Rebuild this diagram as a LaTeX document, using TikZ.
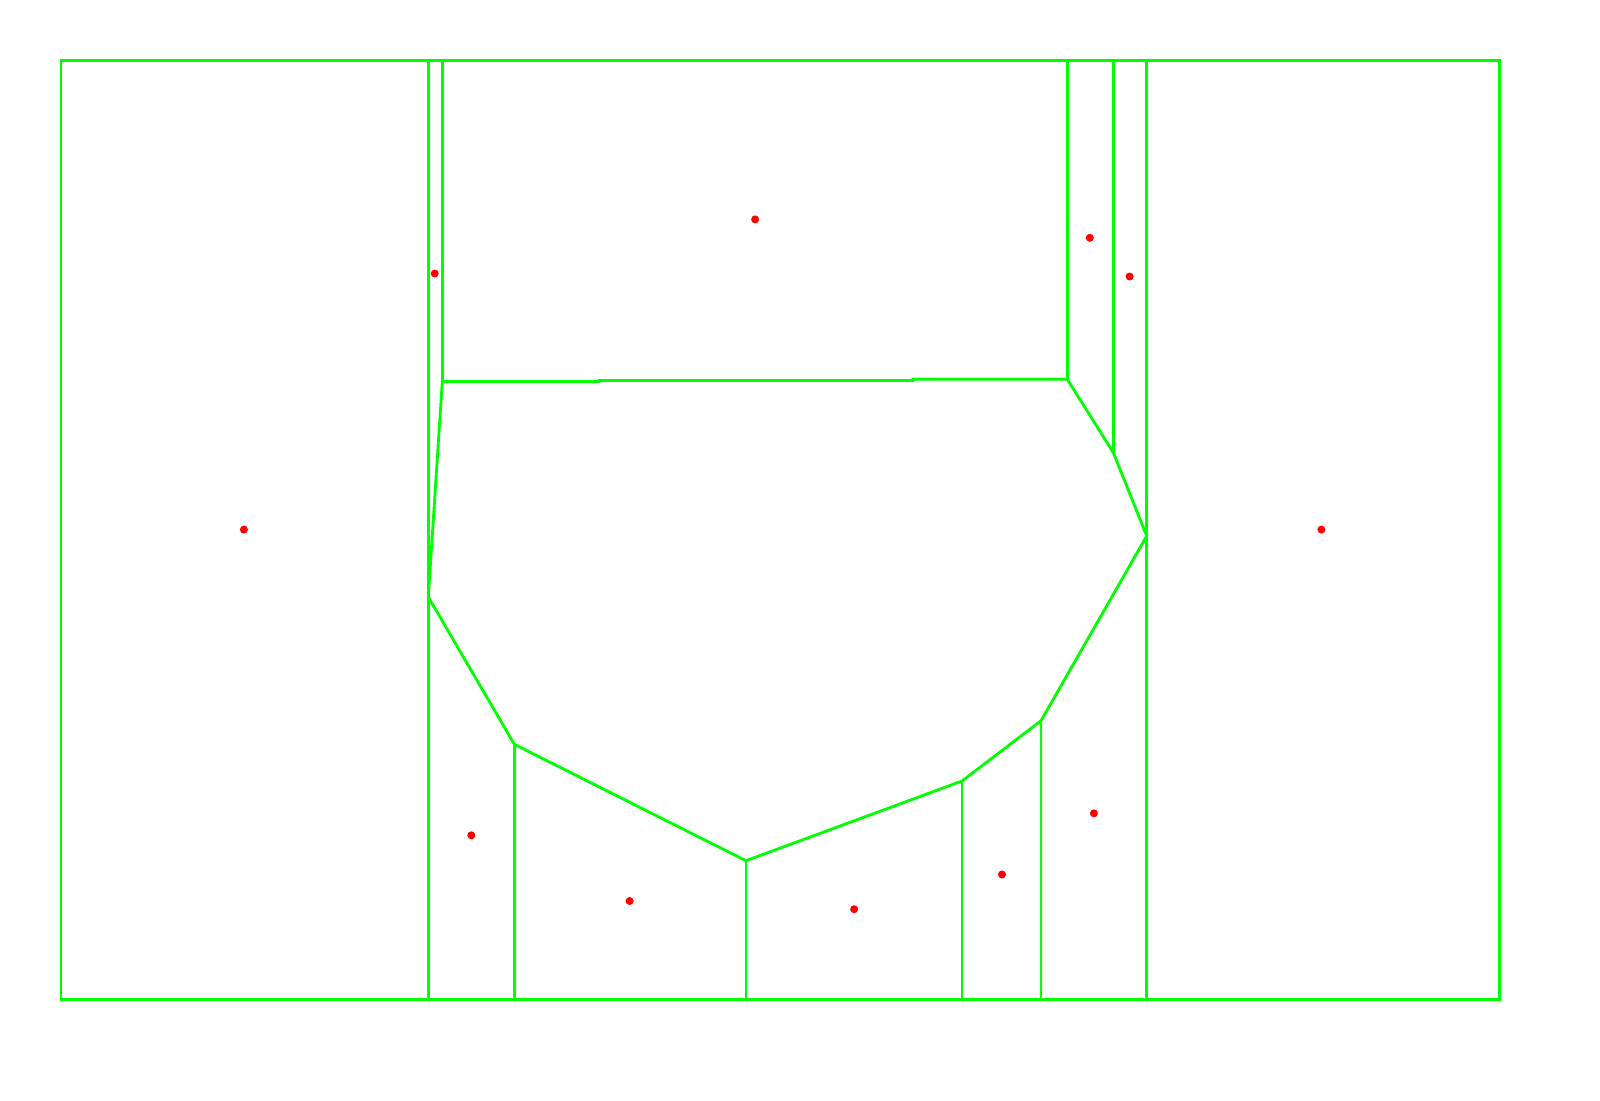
\documentclass[tikz,border=0pt]{standalone}
\usepackage{xcolor}
\definecolor{cellGreen}{HTML}{00FF00}
\definecolor{siteRed}{HTML}{FF0000}
\usepackage{tikz}
\usetikzlibrary{calc}

\begin{document}
\begin{tikzpicture}[
  x=1pt, y=-1pt,
  edge/.style={draw=cellGreen, line width=2.8pt, line join=miter},
  site/.style={circle, fill=siteRed, inner sep=0pt, minimum size=8pt}
]
\useasboundingbox (0,0) rectangle (1600,1100);

% frame
\coordinate (tl) at (61,60.5);
\coordinate (br) at (1499.5,999.5);
\draw[edge] (tl) rectangle (br);

% vertices of the central cell
\coordinate (a) at (428.3,597);
\coordinate (b) at (442.3,381.5);
\coordinate (c) at (1067.3,379.3);
\coordinate (d) at (1113.3,452.7);
\coordinate (e) at (1146.7,536);
\coordinate (f) at (1041,720.7);
\coordinate (g) at (962,781);
\coordinate (h) at (746,860.7);
\coordinate (i) at (514.3,744.3);

% central cell
\draw[edge] (b) -- (599,381.5) -- (599,380.5) -- (913,380.5) -- (913,379.3)
  -- (c) -- (d) -- (e) -- (f) -- (g) -- (h) -- (i) -- (a) -- cycle;

% walls up to the top side
\draw[edge] (a |- tl) -- (a |- br);
\draw[edge] (b |- tl) -- (b);
\draw[edge] (c |- tl) -- (c);
\draw[edge] (d |- tl) -- (d);
\draw[edge] (e |- tl) -- (e |- br);

% walls down to the bottom side
\draw[edge] (i) -- (i |- br);
\draw[edge] (h) -- (h |- br);
\draw[edge] (g) -- (g |- br);
\draw[edge] (f) -- (f |- br);

% sites
\node[site] (sLeft)   at (243.9,529.6) {};
\node[site] (sTop)    at (755.1,219.4) {};
\node[site] (sThin)   at (434.7,273.5) {};
\node[site] (sTopR1)  at (1089.8,237.8) {};
\node[site] (sTopR2)  at (1129.6,276.5) {};
\node[site] (sRight)  at (1321.4,529.6) {};
\node[site] (sBot1)   at (471.3,835.3) {};
\node[site] (sBot2)   at (629.6,901) {};
\node[site] (sBot3)   at (854.1,909.2) {};
\node[site] (sBot4)   at (1002,874.5) {};
\node[site] (sBot5)   at (1093.9,813.3) {};
\end{tikzpicture}
\end{document}
